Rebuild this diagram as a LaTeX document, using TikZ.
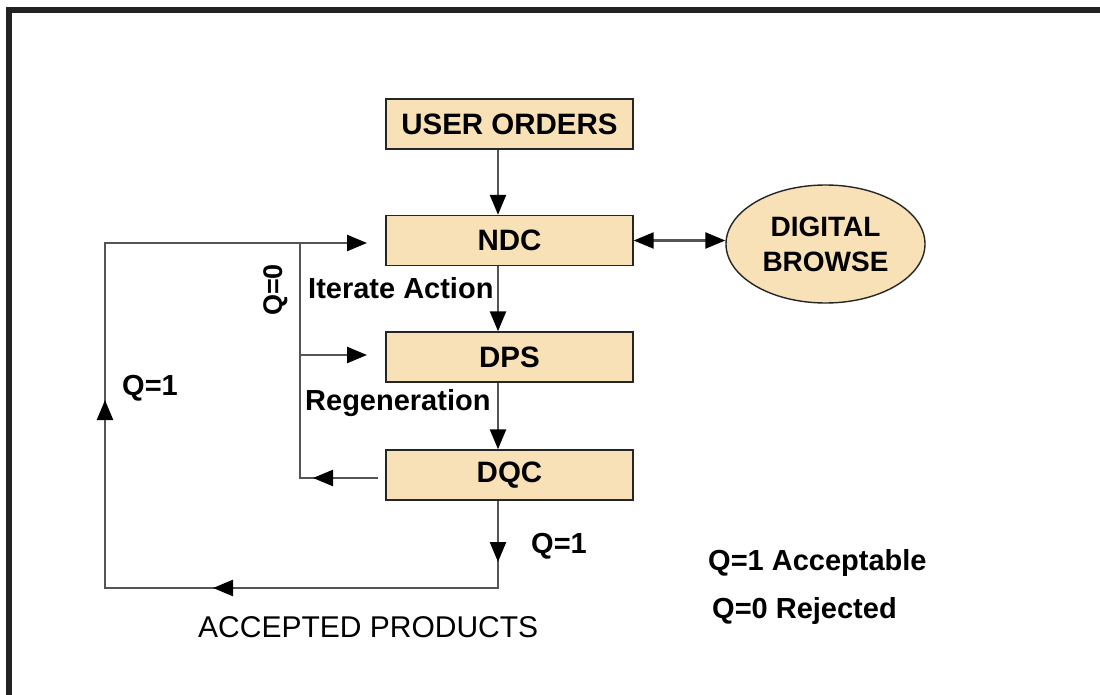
\documentclass[tikz,border=0pt]{standalone}
\usepackage{fontspec}
\setmainfont{Liberation Sans}
\usetikzlibrary{arrows.meta,shapes.geometric}
\definecolor{boxfill}{HTML}{F8E1B6}
\definecolor{framecol}{HTML}{222222}
\definecolor{linecol}{HTML}{555555}
\begin{document}
\begin{tikzpicture}[x=1pt,y=-1pt,
  box/.style={draw=black!85,line width=1.4pt,fill=boxfill,minimum width=247pt,minimum height=50pt,inner sep=0pt,font=\fontsize{29.5}{34}\selectfont\bfseries},
  conn/.style={draw=linecol,line width=2.4pt},
  tip/.style={-{Triangle[length=20pt,width=16pt,color=black]}},
  dtip/.style={{Triangle[length=20pt,width=16pt,color=black]}-{Triangle[length=20pt,width=16pt,color=black]}},
  lbl/.style={font=\fontsize{29}{34}\selectfont\bfseries,inner sep=0pt},
  lblr/.style={font=\fontsize{30}{34}\selectfont,inner sep=0pt}]
\useasboundingbox (0,0) rectangle (1100,695);
\fill[white] (0,0) rectangle (1100,695);
% frame
\fill[framecol] (6,7) rectangle (1100,13);
\fill[framecol] (6,7) rectangle (12,695);
% nodes
\node[box] (uo) at (509.5,124) {USER ORDERS};
\node[box] (ndc) at (509.5,240.5) {NDC};
\node[box] (dps) at (509.5,357) {DPS};
\node[box] (dqc) at (509.5,475) {DQC};
\node[ellipse,draw=black!85,line width=1.4pt,fill=boxfill,minimum width=199pt,minimum height=118pt,inner sep=0pt,align=center,font=\fontsize{28}{35}\selectfont\bfseries] (db) at (825.5,244) {DIGITAL\\BROWSE};
% coordinates
\coordinate (ax) at (498,0);
\coordinate (bot) at (498,588);
\coordinate (bl) at (105,588);
\coordinate (tl) at (105,243);
\coordinate (nIn) at (367,243);
\coordinate (it) at (300,243);
\coordinate (ib) at (300,478);
\coordinate (mUp) at (105,400);
\coordinate (mLeft) at (213,588);
\coordinate (mDown) at (498,562);
\coordinate (fbStart) at (378,478);
\coordinate (fbTip) at (313,478);
\coordinate (dOut) at (300,355);
\coordinate (dIn) at (367,355);
% main flow
\draw[conn,tip] (uo.south -| ax) -- (ndc.north -| ax);
\draw[conn,tip] (ndc.south -| ax) -- (dps.north -| ax);
\draw[conn,tip] (dps.south -| ax) -- (dqc.north -| ax);
\draw[conn,dtip] (ndc.east) -- (ndc.east -| db.west);
% accepted loop
\draw[conn,tip] (dqc.south -| ax) -- (bot) -- (bl) -- (tl) -- (nIn);
\draw[conn,tip] (dqc.south -| ax) -- (mDown);
\draw[conn,tip] (bot) -- (mLeft);
\draw[conn,tip] (bl) -- (mUp);
% rejected loop
\draw[conn] (fbStart) -- (ib) -- (it);
\draw[conn,tip] (fbStart) -- (fbTip);
\draw[conn,tip] (dOut) -- (dIn);
% labels
\node[lbl,anchor=base west] (ia) at (308,298) {Iterate Action};
\node[lbl,anchor=base west] (rg) at (305,410) {Regeneration};
\node[lbl,anchor=base west] (q1l) at (122,395) {Q=1};
\node[lbl,anchor=base west] (q1b) at (531,553) {Q=1};
\node[font=\fontsize{27}{30}\selectfont\bfseries,inner sep=0pt,rotate=90] (q0) at (276,290) {Q=0};
\node[lblr,anchor=base west] (ap) at (198,637) {ACCEPTED PRODUCTS};
\node[lbl,anchor=base west] (lg1) at (708,570) {Q=1 Acceptable};
\node[lbl,anchor=base west] (lg2) at (712,618) {Q=0 Rejected};
\end{tikzpicture}
\end{document}
